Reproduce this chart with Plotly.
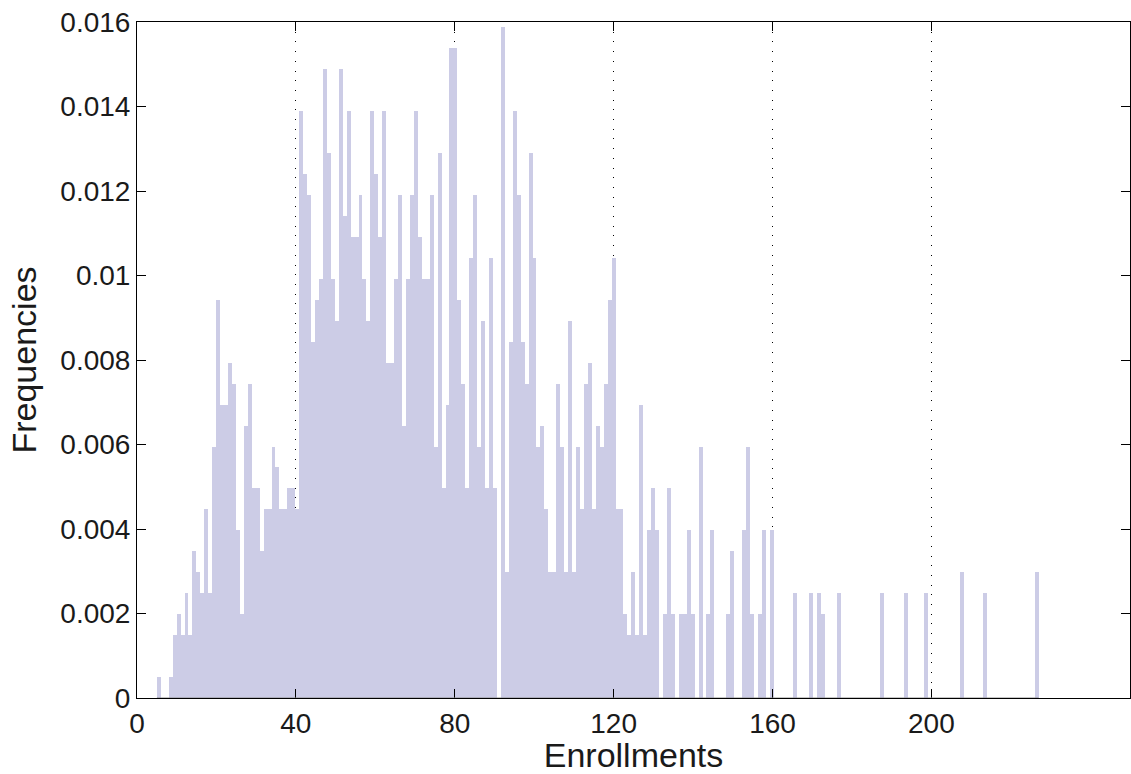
import numpy as np
import plotly.graph_objects as go

# Histogram bins (223 equal-width bins spanning the observed enrollment range)
BIN_MIN = 5
BIN_MAX = 227
N_BINS = 223

# Frequencies per bin (left to right)
freq = [
    0.000496, 0, 0, 0.000496, 0.001488, 0.001984, 0.001488, 0.00248, 0.001488, 0.003472,
    0.002976, 0.00248, 0.004464, 0.00248, 0.005952, 0.009425, 0.006944, 0.006944, 0.007937, 0.00744,
    0.003968, 0.001984, 0.006448, 0.00744, 0.00496, 0.00496, 0.003472, 0.004464, 0.004464, 0.005952,
    0.005456, 0.004464, 0.004464, 0.00496, 0.00496, 0.004464, 0.013889, 0.012401, 0.011905, 0.008433,
    0.009425, 0.009921, 0.014881, 0.012897, 0.009921, 0.008929, 0.014881, 0.011409, 0.013889, 0.010913,
    0.010913, 0.011905, 0.009921, 0.008929, 0.013889, 0.012401, 0.010913, 0.013889, 0.007937, 0.007937,
    0.009921, 0.011905, 0.006448, 0.009921, 0.011905, 0.013889, 0.010913, 0.009921, 0.009921, 0.011905,
    0.005952, 0.012897, 0.00496, 0.006944, 0.015377, 0.015377, 0.009425, 0.00744, 0.00496, 0.010417,
    0.011905, 0.005952, 0.008929, 0.00496, 0.010417, 0.00496, 0, 0.015873, 0.002976, 0.008433,
    0.013889, 0.011905, 0.008433, 0.00744, 0.012897, 0.010417, 0.005952, 0.006448, 0.004464, 0.002976,
    0.002976, 0.00744, 0.005952, 0.002976, 0.008929, 0.002976, 0.005952, 0.004464, 0.00744, 0.007937,
    0.004464, 0.006448, 0.005952, 0.00744, 0.009425, 0.010417, 0.004464, 0.004464, 0.001984, 0.001488,
    0.002976, 0.001488, 0.006944, 0.001488, 0.003968, 0.00496, 0.003968, 0, 0.001984, 0.00496,
    0.001984, 0, 0.001984, 0.001984, 0.003968, 0.001984, 0, 0.005952, 0, 0.001984,
    0.003968, 0, 0, 0, 0.001984, 0.003472, 0, 0, 0.003968, 0.005952,
    0.001984, 0, 0.001984, 0.003968, 0, 0.003968, 0, 0, 0, 0,
    0, 0.00248, 0, 0, 0, 0.00248, 0, 0.00248, 0.001984, 0,
    0, 0, 0.00248, 0, 0, 0, 0, 0, 0, 0,
    0, 0, 0, 0.00248, 0, 0, 0, 0, 0, 0.00248,
    0, 0, 0, 0, 0.00248, 0, 0, 0, 0, 0,
    0, 0, 0, 0.002976, 0, 0, 0, 0, 0, 0.00248,
    0, 0, 0, 0, 0, 0, 0, 0, 0, 0,
    0, 0, 0.002976,
]

x_ticks = [0, 40, 80, 120, 160, 200]
y_ticks = [0, 0.002, 0.004, 0.006, 0.008, 0.01, 0.012, 0.014, 0.016]
y_tick_labels = ["0", "0.002", "0.004", "0.006", "0.008", "0.01", "0.012", "0.014", "0.016"]

edges = np.linspace(BIN_MIN, BIN_MAX, N_BINS + 1)
centers = (edges[:-1] + edges[1:]) / 2
width = edges[1] - edges[0]

BAR_COLOR = "rgb(204,204,230)"
FONT = "Liberation Sans, Arial, Helvetica, sans-serif"

fig = go.Figure()
fig.add_trace(go.Bar(
    x=centers, y=freq, width=width,
    marker=dict(color=BAR_COLOR, line=dict(width=0)),
    showlegend=False, hoverinfo="x+y",
))

# MATLAB-style baseline under the bars
fig.add_shape(type="line", x0=BIN_MIN, x1=BIN_MAX, y0=0, y1=0,
              xref="x", yref="y", line=dict(color="#8c8c8c", width=1), layer="above")

fig.update_layout(
    width=1131, height=774,
    margin=dict(l=137, r=1, t=22, b=76),
    paper_bgcolor="white", plot_bgcolor="white",
    bargap=0,
    font=dict(family=FONT, color="black"),
    xaxis=dict(
        range=[0, 250], tickvals=x_ticks, ticktext=[str(v) for v in x_ticks],
        ticks="inside", ticklen=9, tickwidth=1, tickcolor="black",
        showline=True, linecolor="black", linewidth=1, mirror="ticks",
        showgrid=True, gridcolor="black", gridwidth=1, griddash="1px,8.7px",
        zeroline=False,
        tickfont=dict(size=28, family=FONT, color="#1a1a1a"),
        title=dict(text="Enrollments", font=dict(size=34, family=FONT, color="#1a1a1a"), standoff=2),
    ),
    yaxis=dict(
        range=[0, 0.016], tickvals=y_ticks, ticktext=y_tick_labels,
        ticks="inside", ticklen=9, tickwidth=1, tickcolor="black",
        showline=True, linecolor="black", linewidth=1, mirror="ticks",
        showgrid=False, zeroline=False,
        tickfont=dict(size=28, family=FONT, color="#1a1a1a"),
        title=dict(text="Frequencies", font=dict(size=34, family=FONT, color="#1a1a1a"), standoff=13),
    ),
)

fig.write_html("out.html")
